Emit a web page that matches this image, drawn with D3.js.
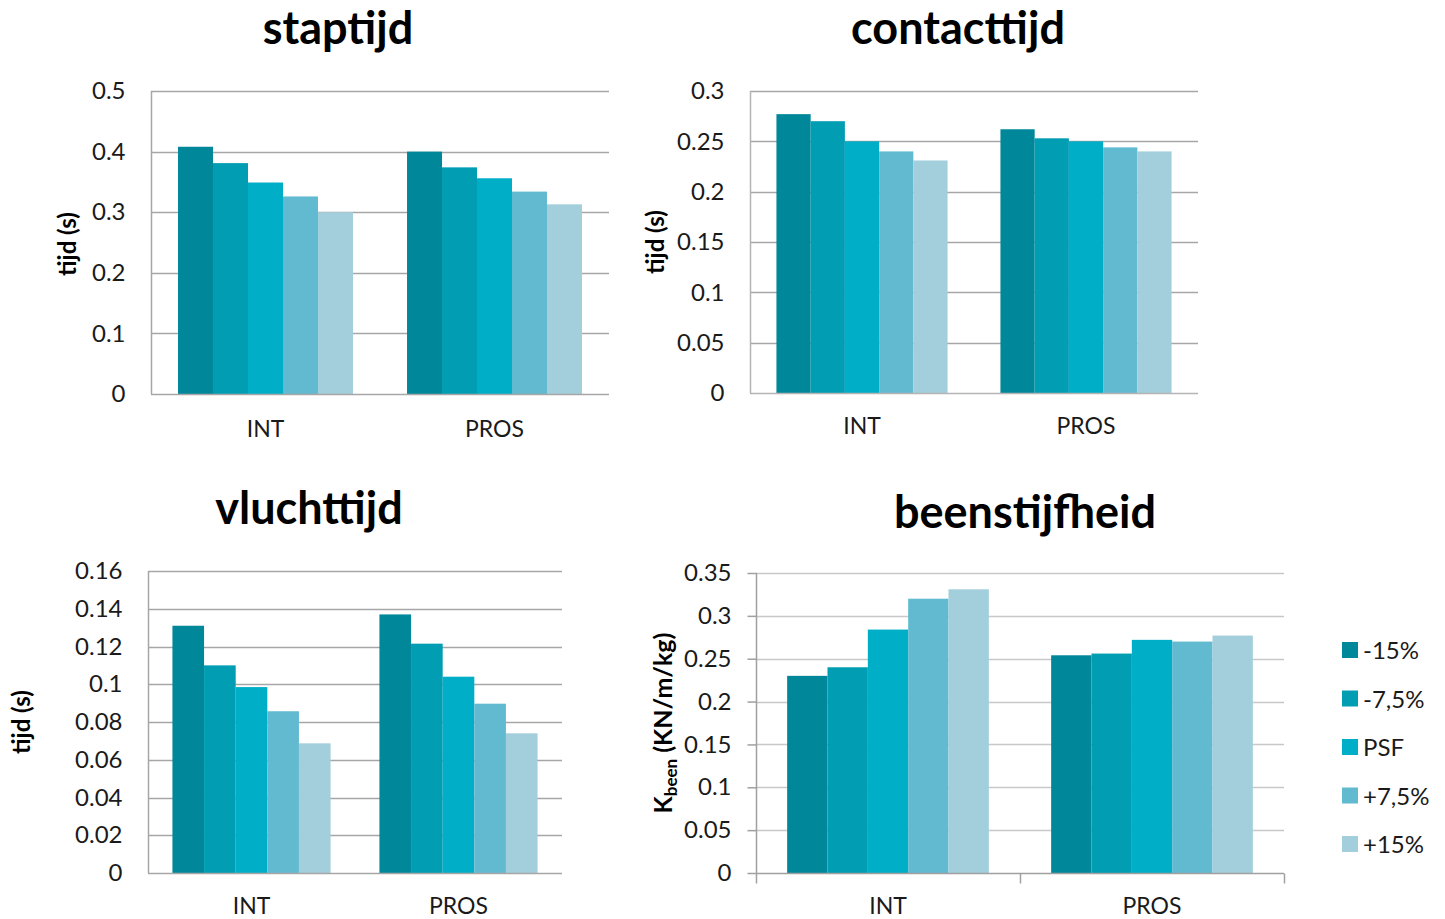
<!DOCTYPE html>
<html>
<head>
<meta charset="utf-8">
<script src="https://cdn.jsdelivr.net/npm/d3@7"></script>
<style>
  html, body { margin: 0; padding: 0; background: #ffffff; }
  svg { display: block; font-family: Lato, "Open Sans", sans-serif; }
</style>
</head>
<body>
<svg id="chart" width="1445" height="919"></svg>
<script>
// Groups and series shared by all four panels
const categories = ["INT", "PROS"];
const series = ["-15%", "-7,5%", "PSF", "+7,5%", "+15%"];
const seriesColors = ["#00889a", "#009db3", "#00aec7", "#62bad1", "#a3cfdc"];

// staptijd (s)
const staptijdInt  = [0.408, 0.381, 0.349, 0.326, 0.300];
const staptijdPros = [0.400, 0.374, 0.356, 0.334, 0.313];
const staptijdTicks = [0, 0.1, 0.2, 0.3, 0.4, 0.5];

// contacttijd (s)
const contacttijdInt  = [0.277, 0.270, 0.250, 0.240, 0.231];
const contacttijdPros = [0.262, 0.253, 0.250, 0.244, 0.240];
const contacttijdTicks = [0, 0.05, 0.1, 0.15, 0.2, 0.25, 0.3];

// vluchttijd (s)
const vluchttijdInt  = [0.131, 0.110, 0.0985, 0.0857, 0.0687];
const vluchttijdPros = [0.137, 0.1215, 0.104, 0.0897, 0.074];
const vluchttijdTicks = [0, 0.02, 0.04, 0.06, 0.08, 0.1, 0.12, 0.14, 0.16];

// beenstijfheid (KN/m/kg)
const beenstijfheidInt  = [0.230, 0.240, 0.284, 0.320, 0.331];
const beenstijfheidPros = [0.254, 0.256, 0.272, 0.270, 0.277];
const beenstijfheidTicks = [0, 0.05, 0.1, 0.15, 0.2, 0.25, 0.3, 0.35];

const svg = d3.select("#chart");

function drawPanel(opt) {
  const g = svg.append("g");
  const x = d3.scaleBand().domain(categories)
    .range([opt.left, opt.right]).paddingInner(0.236).paddingOuter(0.118);
  const xs = d3.scaleBand().domain(series).range([0, x.bandwidth()]).padding(0);
  const y = d3.scaleLinear().domain([0, opt.max]).range([opt.bottom, opt.top]);

  // horizontal gridlines
  g.append("g").selectAll("line").data(opt.ticks.filter(t => t > 0)).join("line")
    .attr("x1", opt.left).attr("x2", opt.right)
    .attr("y1", d => Math.round(y(d)) + 0.5).attr("y2", d => Math.round(y(d)) + 0.5)
    .attr("stroke", opt.gridColor).attr("stroke-width", 1.5);

  // y axis (labels only, or labels with outward ticks)
  const yAxis = d3.axisLeft(y).tickValues(opt.ticks)
    .tickFormat(d => String(+d.toFixed(3)))
    .tickSize(opt.ticksOut ? 9 : 0).tickPadding(opt.ticksOut ? 16 : 26);
  const ya = g.append("g").attr("transform", `translate(${opt.left + 0.5},0)`).call(yAxis);
  ya.select(".domain").attr("stroke", opt.axisColor).attr("stroke-width", 1.5)
    .attr("d", `M0,${y(0)}V${opt.top}`);
  ya.selectAll(".tick line").attr("stroke", opt.axisColor).attr("stroke-width", 1.5);
  ya.selectAll(".tick text").attr("fill", "#1a1a1a").style("font-size", "24px")
    .style("font-family", "Lato, sans-serif");

  // bars
  const groups = [opt.intVals, opt.prosVals];
  categories.forEach((c, ci) => {
    g.append("g").selectAll("rect").data(groups[ci]).join("rect")
      .attr("x", (d, i) => x(c) + xs(series[i]))
      .attr("width", xs.bandwidth())
      .attr("y", d => y(d))
      .attr("height", d => y(0) - y(d))
      .attr("fill", (d, i) => seriesColors[i]);
  });

  // x axis baseline and category labels
  const xAxis = d3.axisBottom(x).tickSize(0).tickPadding(opt.catPad);
  const xa = g.append("g").attr("transform", `translate(0,${Math.round(y(0)) + 0.5})`).call(xAxis);
  xa.select(".domain").attr("stroke", opt.axisColor).attr("stroke-width", 1.5)
    .attr("d", `M${opt.left},0H${opt.right}`);
  xa.selectAll(".tick text").attr("fill", "#1a1a1a").style("font-size", "23px")
    .style("font-family", "Lato, sans-serif");
  if (opt.ticksOut) {
    const bounds = [opt.left, (opt.left + opt.right) / 2, opt.right];
    xa.append("g").selectAll("line").data(bounds).join("line")
      .attr("x1", d => Math.round(d) + 0.5).attr("x2", d => Math.round(d) + 0.5)
      .attr("y1", 0).attr("y2", 10)
      .attr("stroke", opt.axisColor).attr("stroke-width", 1.5);
  }

  // title
  g.append("text").attr("x", opt.titleX).attr("y", opt.titleY)
    .attr("text-anchor", "middle").attr("fill", "#000")
    .style("font-size", "45px").style("font-weight", "bold")
    .text(opt.title);

  // y axis title
  const yt = g.append("text")
    .attr("transform", `translate(${opt.yTitleX},${opt.yTitleY}) rotate(-90)`)
    .attr("text-anchor", "middle").attr("fill", "#000")
    .style("font-size", opt.yTitleSub ? "25px" : "24px").style("font-weight", "bold");
  if (opt.yTitleSub) {
    yt.append("tspan").text(opt.yTitleMain);
    yt.append("tspan").attr("baseline-shift", "-28%").style("font-size", "17px").text(opt.yTitleSub);
    yt.append("tspan").text(" " + opt.yTitleRest);
  } else {
    yt.text(opt.yTitleMain);
  }
}

drawPanel({
  title: "staptijd", titleX: 338, titleY: 44,
  left: 151, right: 609, top: 91, bottom: 394, max: 0.5, ticks: staptijdTicks,
  intVals: staptijdInt, prosVals: staptijdPros,
  gridColor: "#a6a6a6", axisColor: "#a6a6a6", ticksOut: false, catPad: 26,
  yTitleX: 76, yTitleY: 244, yTitleMain: "tijd (s)"
});

drawPanel({
  title: "contacttijd", titleX: 958, titleY: 44,
  left: 750, right: 1198, top: 91, bottom: 393, max: 0.3, ticks: contacttijdTicks,
  intVals: contacttijdInt, prosVals: contacttijdPros,
  gridColor: "#a6a6a6", axisColor: "#b4b4b4", ticksOut: false, catPad: 24,
  yTitleX: 664, yTitleY: 242, yTitleMain: "tijd (s)"
});

drawPanel({
  title: "vluchttijd", titleX: 309, titleY: 524,
  left: 148, right: 562, top: 571, bottom: 873, max: 0.16, ticks: vluchttijdTicks,
  intVals: vluchttijdInt, prosVals: vluchttijdPros,
  gridColor: "#a6a6a6", axisColor: "#a6a6a6", ticksOut: false, catPad: 24,
  yTitleX: 30, yTitleY: 722, yTitleMain: "tijd (s)"
});

drawPanel({
  title: "beenstijfheid", titleX: 1025, titleY: 528,
  left: 756, right: 1284, top: 573, bottom: 873, max: 0.35, ticks: beenstijfheidTicks,
  intVals: beenstijfheidInt, prosVals: beenstijfheidPros,
  gridColor: "#c8c8c8", axisColor: "#a0a0a0", ticksOut: true, catPad: 24,
  yTitleX: 672, yTitleY: 723, yTitleMain: "K", yTitleSub: "been", yTitleRest: "(KN/m/kg)"
});

// legend
const legend = svg.append("g").attr("transform", "translate(1342,642)");
const item = legend.selectAll("g").data(series).join("g")
  .attr("transform", (d, i) => `translate(0,${i * 48.5})`);
item.append("rect").attr("width", 16).attr("height", 16)
  .attr("fill", (d, i) => seriesColors[i]);
item.append("text").attr("x", 21).attr("y", 17)
  .attr("fill", "#1a1a1a").style("font-size", "24px").text(d => d);
</script>
</body>
</html>
